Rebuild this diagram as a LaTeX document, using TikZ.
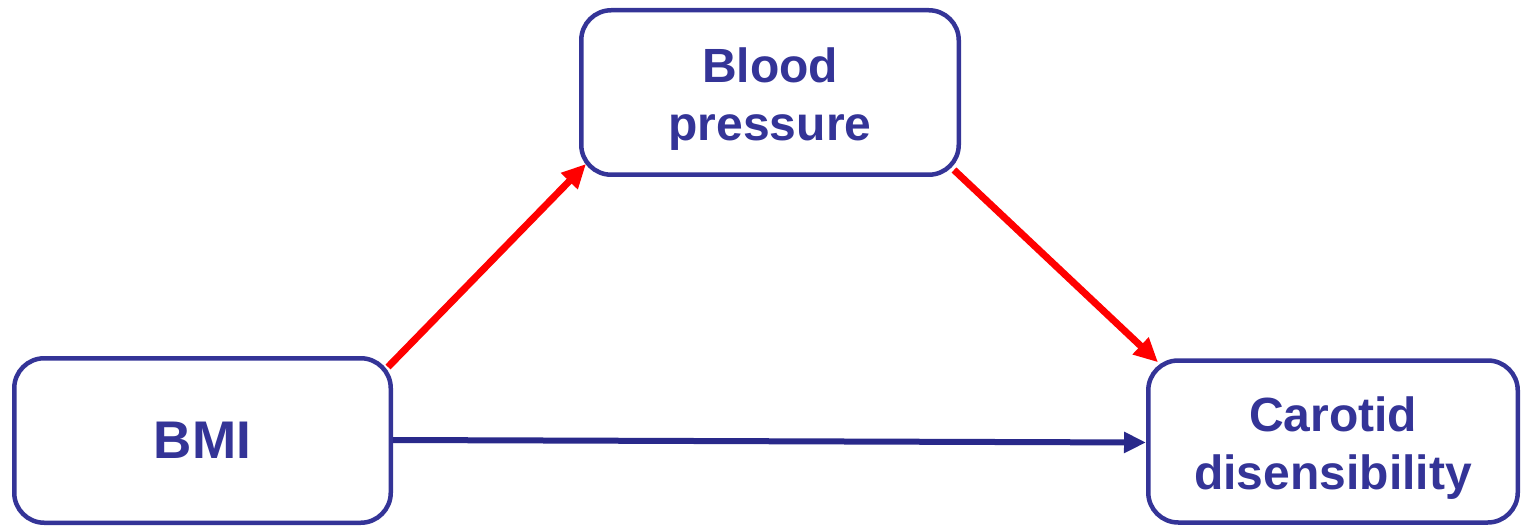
\documentclass[tikz,border=0pt]{standalone}
\usepackage{fontspec}
\setmainfont{Liberation Sans}
\usetikzlibrary{arrows.meta,calc}
\definecolor{boxblue}{HTML}{343497}
\definecolor{arrowblue}{HTML}{29298A}
\definecolor{pathred}{HTML}{FF0000}
\begin{document}
\begin{tikzpicture}[x=1pt,y=-1pt,
  varbox/.style={draw=boxblue, line width=4.5pt, rounded corners=30pt, fill=white,
    text=boxblue, font=\fontsize{48}{58}\selectfont\bfseries, align=center,
    inner sep=0pt},
  redpath/.style={draw=pathred, line width=7pt,
    -{Triangle[length=24pt,width=22pt]}},
  directpath/.style={draw=arrowblue, line width=6pt,
    -{Triangle[length=22pt,width=20pt]}}]
\useasboundingbox (0,0) rectangle (1522,526);

% variables (the strut on the first line lowers the two-line labels a little)
\node[varbox, minimum width=376.5pt, minimum height=164.5pt,
      font=\fontsize{53}{60}\selectfont\bfseries] (bmi) at (202.5,440.5) {BMI};
\node[varbox, minimum width=377.5pt, minimum height=164.5pt] (bp) at (770,92.5)
  {\rule{0pt}{47pt}Blood\\pressure};
\node[varbox, minimum width=369.5pt, minimum height=162pt] (ca) at (1333,441.5)
  {\rule{0pt}{47pt}Carotid\\disensibility};

% indirect path through blood pressure
\draw[redpath] ($(bmi.north east)+(-5,11)$) -- ($(bp.south west)+(7,-13)$);
\draw[redpath] ($(bp.south east)+(-7,-7)$) -- ($(ca.north west)+(12,4)$);
% direct path
\draw[directpath] ($(bmi.east)+(0,-0.5)$) -- ($(ca.west)+(0,1)$);
\end{tikzpicture}
\end{document}
